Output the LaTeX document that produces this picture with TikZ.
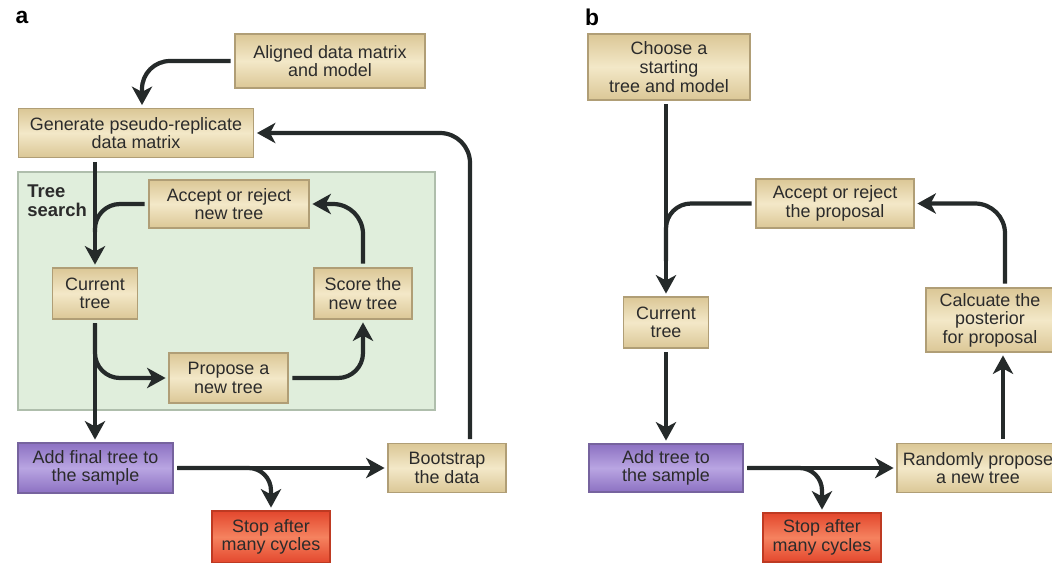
\documentclass[tikz,border=0pt]{standalone}
\usepackage{fontspec}
\setmainfont{Liberation Sans}
\usetikzlibrary{arrows.meta,calc}

\definecolor{ink}{HTML}{2B2B2B}
\definecolor{wire}{HTML}{252A2A}
\definecolor{tanC}{HTML}{F3E8C8}
\definecolor{tanE}{HTML}{DBC796}
\definecolor{tanB}{HTML}{B09E76}
\definecolor{purC}{HTML}{B9A5E2}
\definecolor{purE}{HTML}{8C71C2}
\definecolor{purB}{HTML}{76639E}
\definecolor{redC}{HTML}{F5825F}
\definecolor{redE}{HTML}{E3472D}
\definecolor{redB}{HTML}{BE3A22}
\definecolor{srchF}{HTML}{E0EEDC}
\definecolor{srchB}{HTML}{AFBEAC}

\tikzset{
  box/.style={draw, line width=0.9pt, inner sep=0pt, align=center,
    text=ink, font=\fontsize{10.2}{10.6}\selectfont},
  tanbox/.style={box, draw=tanB, top color=tanE, bottom color=tanE, middle color=tanC},
  purbox/.style={box, draw=purB, top color=purE, bottom color=purE, middle color=purC},
  redbox/.style={box, draw=redB, top color=redE, bottom color=redE, middle color=redC},
  wireline/.style={draw=wire, line width=2.4pt, shorten <=2pt},
  arr/.style={wireline, -{Stealth[length=10.5pt,width=11.5pt,inset=3pt]}, shorten >=1.5pt},
  panel/.style={font=\fontsize{13}{13}\selectfont\bfseries, text=black, inner sep=0pt}
}

\begin{document}
\begin{tikzpicture}[x=0.02cm, y=-0.02cm]
\clip (0,0) rectangle (1052,562);
\useasboundingbox (0,0) rectangle (1052,562);

% ---------- panel a: bootstrap ----------
\node[panel] (la) at (22,17) {a};

\node[draw=srchB, fill=srchF, line width=0.8pt, minimum width=8.34cm, minimum height=4.76cm, inner sep=0pt] (search) at (226.5,291) {};
\node[anchor=north west, align=left, inner sep=0pt, text=ink,
  font=\fontsize{10.5}{11.2}\selectfont\bfseries] (searchlbl) at (27,184) {Tree\\search};

\node[tanbox, minimum width=3.8cm, minimum height=1.08cm] (aligned) at (330,61) {Aligned data matrix\\and model};
\node[tanbox, minimum width=4.7cm, minimum height=0.98cm] (gen) at (136,133) {Generate pseudo-replicate\\data matrix};
\node[tanbox, minimum width=3.2cm, minimum height=0.96cm] (accA) at (229,204) {Accept or reject\\new tree};
\node[tanbox, minimum width=1.7cm, minimum height=1.02cm] (curA) at (95,293.5) {Current\\tree};
\node[tanbox, minimum width=1.96cm, minimum height=1.02cm] (scoreA) at (363,293.5) {Score the\\new tree};
\node[tanbox, minimum width=2.38cm, minimum height=1.0cm] (propA) at (228.5,378) {Propose a\\new tree};
\node[purbox, minimum width=3.1cm, minimum height=1.0cm] (addA) at (95.5,468) {Add final tree to\\the sample};
\node[tanbox, minimum width=2.36cm, minimum height=0.98cm] (bootA) at (447,468) {Bootstrap\\the data};
\node[redbox, minimum width=2.36cm, minimum height=1.04cm] (stopA) at (271,537) {Stop after\\many cycles};

\draw[arr, rounded corners=0.56cm] (aligned.west) -| ($(gen.north)+(6,0)$);
\draw[arr, rounded corners=0.6cm] ($(bootA.north)+(23,0)$) |- (gen.east);
\draw[arr] (gen.south -| curA.north) -- (curA.north);
\draw[wireline, rounded corners=0.5cm, shorten >=20pt] (accA.west) -| (curA.north);
\draw[arr, rounded corners=0.6cm] (scoreA.north) |- (accA.east);
\draw[arr] (curA.south) -- (curA.south |- addA.north);
\draw[arr, rounded corners=0.5cm] (curA.south) |- (propA.west);
\draw[arr, rounded corners=0.5cm] (propA.east) -| (scoreA.south);
\draw[arr] (addA.east) -- (bootA.west);
\draw[arr, rounded corners=0.45cm] (addA.east) -| (stopA.north);

% ---------- panel b: Bayesian MCMC ----------
\node[panel] (lb) at (592,17) {b};

\node[tanbox, minimum width=3.24cm, minimum height=1.32cm] (chooseB) at (669,67) {Choose a\\starting\\tree and model};
\node[tanbox, minimum width=3.16cm, minimum height=0.98cm] (accB) at (835,203.5) {Accept or reject\\the proposal};
\node[tanbox, minimum width=1.7cm, minimum height=1.02cm] (curB) at (666,322.5) {Current\\tree};
\node[purbox, minimum width=3.08cm, minimum height=0.96cm] (addB) at (666,468) {Add tree to\\the sample};
\node[tanbox, minimum width=3.24cm, minimum height=0.98cm] (randB) at (978,468) {Randomly propose\\a new tree};
\node[tanbox, minimum width=2.56cm, minimum height=1.28cm] (calcB) at (990,320) {Calcuate the\\posterior\\for proposal};
\node[redbox, minimum width=2.36cm, minimum height=0.98cm] (stopB) at (822,537.5) {Stop after\\many cycles};

\draw[arr] (chooseB.south -| curB.north) -- (curB.north);
\draw[wireline, rounded corners=0.5cm, shorten >=20pt] (accB.west) -| (curB.north);
\draw[arr] (curB.south) -- (addB.north);
\draw[arr] (addB.east) -- (randB.west);
\draw[arr, rounded corners=0.45cm] (addB.east) -| (stopB.north);
\draw[arr] ($(randB.north)+(25,0)$) -- ($(calcB.south)+(13,0)$);
\draw[arr, rounded corners=0.6cm] ($(calcB.north)+(15,0)$) |- (accB.east);
\end{tikzpicture}
\end{document}
